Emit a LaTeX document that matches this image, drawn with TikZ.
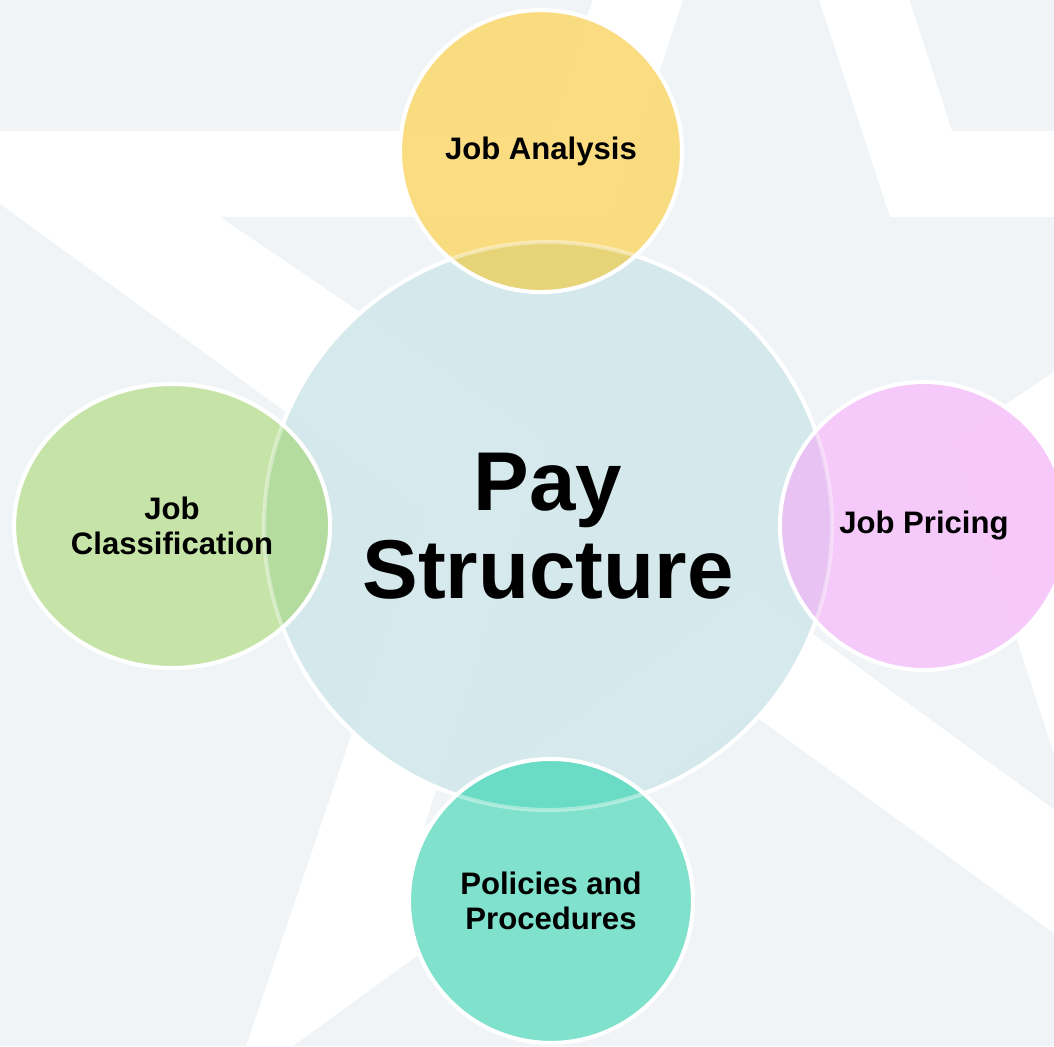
\documentclass[tikz,border=0pt]{standalone}
\usepackage{fontspec}
\setmainfont{Liberation Sans}
\usetikzlibrary{shapes.geometric}

\definecolor{bgcol}{RGB}{240,244,247}
\definecolor{paycol}{RGB}{211,233,236}
\definecolor{analysiscol}{RGB}{251,219,122}
\definecolor{analysisover}{RGB}{232,212,120}
\definecolor{classcol}{RGB}{196,228,164}
\definecolor{classover}{RGB}{180,220,158}
\definecolor{pricecol}{RGB}{246,199,250}
\definecolor{priceover}{RGB}{232,194,242}
\definecolor{policycol}{RGB}{122,224,202}
\definecolor{policyover}{RGB}{106,219,196}

\begin{document}
\begin{tikzpicture}[x=0.02cm, y=-0.02cm,
	bubble/.style={
		circle,
		draw=white, line width=2.3pt,
		fill opacity=0.95, text opacity=1,
		inner sep=0pt,
		align=center,
		font=\fontsize{17.7}{19.8}\selectfont\bfseries,
	},
	overlap/.style={path picture={
		\fill[fill opacity=1, #1] (pay.center) circle (5.68cm);
		\draw[white, draw opacity=0.4, line width=2.3pt] (pay.center) circle (5.68cm);
	}},
	]
	\useasboundingbox (0,0) rectangle (1054,1046);
	\clip (0,0) rectangle (1054,1046);
	\fill[bgcol] (0,0) rectangle (1054,1046);
	% star outline behind the bubbles
	\fill[white, even odd rule]
		(751,-487) -- (952,131) -- (1602,131) -- (1076,514) -- (1271,1091) -- (751,713)
		-- (231,1091) -- (426,514) -- (-100,131) -- (550,131) -- cycle
		(751,-209) -- (890,217) -- (1282,217) -- (952,441) -- (1078,827) -- (751,589)
		-- (424,827) -- (550,441) -- (220,217) -- (612,217) -- cycle;

	\node[bubble, fill=paycol, fill opacity=0.93, minimum size=11.36cm,
		font=\fontsize{47.5}{50}\selectfont\bfseries] (pay) at (548,526) {Pay\\Structure};

	\node[bubble, fill=analysiscol, overlap=analysisover, minimum size=5.64cm,
		node distance=7.5cm, above of=pay, xshift=-0.14cm] (analysis) {Job Analysis};
	\node[bubble, ellipse, fill=classcol, overlap=classover, minimum width=6.32cm, minimum height=5.68cm,
		node distance=7.52cm, left of=pay] (classification) {Job\\Classification};
	\node[bubble, fill=pricecol, overlap=priceover, minimum size=5.76cm,
		node distance=7.52cm, right of=pay] (pricing) {Job Pricing};
	\node[bubble, fill=policycol, overlap=policyover, minimum size=5.68cm,
		node distance=7.5cm, below of=pay, xshift=0.06cm] (policies) {Policies and\\Procedures};
	%\node[below of=policies] {};
\end{tikzpicture}
\end{document}
